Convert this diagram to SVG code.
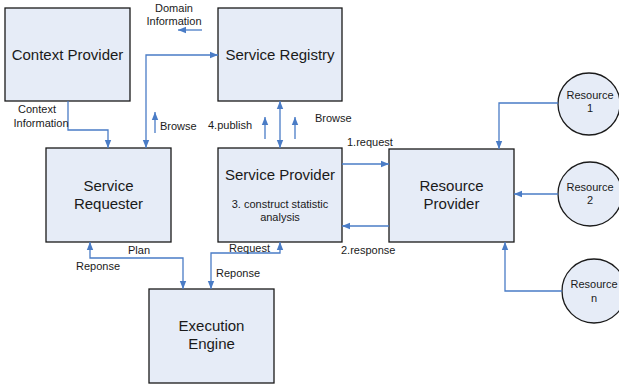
<svg xmlns="http://www.w3.org/2000/svg" width="619" height="384" viewBox="0 0 619 384">
  <defs>
    <marker id="arr" markerWidth="8" markerHeight="8" viewBox="0 0 8 8" refX="8" refY="4" orient="auto" markerUnits="userSpaceOnUse">
      <path d="M0,0.8 L8,4 L0,7.2 Z" fill="#4a7cc6"/>
    </marker>
    <marker id="arrS" markerWidth="8" markerHeight="8" viewBox="0 0 8 8" refX="0" refY="4" orient="auto" markerUnits="userSpaceOnUse">
      <path d="M8,0.8 L0,4 L8,7.2 Z" fill="#4a7cc6"/>
    </marker>
  </defs>
  <style>
    .box { fill: #e6ecf7; stroke: #1a1a1a; stroke-width: 1.3; }
    .title { font-family: "Liberation Sans", Arial, sans-serif; font-size: 15px; fill: #1a1a1a; text-anchor: middle; }
    .sub { font-family: "Liberation Sans", Arial, sans-serif; font-size: 11px; fill: #1a1a1a; text-anchor: middle; }
    .lbl { font-family: "Liberation Sans", Arial, sans-serif; font-size: 11px; fill: #1a1a1a; }
    .res { font-family: "Liberation Sans", Arial, sans-serif; font-size: 11px; fill: #1a1a1a; text-anchor: middle; }
    .ln { fill: none; stroke: #4a7cc6; stroke-width: 1.3; }
  </style>
  <rect width="619" height="384" fill="#ffffff"/>

  <g id="context-provider">
    <rect class="box" x="5" y="8" width="125" height="93"/>
    <text class="title" x="67.5" y="60">Context Provider</text>
  </g>
  <g id="service-registry">
    <rect class="box" x="218" y="8" width="124" height="93"/>
    <text class="title" x="280" y="60">Service Registry</text>
  </g>
  <g id="service-requester">
    <rect class="box" x="46" y="148" width="125" height="94"/>
    <text class="title" x="108.5" y="191">Service</text>
    <text class="title" x="108.5" y="209">Requester</text>
  </g>
  <g id="service-provider">
    <rect class="box" x="218" y="148" width="124" height="94"/>
    <text class="title" x="280" y="180">Service Provider</text>
    <text class="sub" x="280" y="208">3. construct statistic</text>
    <text class="sub" x="280" y="221">analysis</text>
  </g>
  <g id="resource-provider">
    <rect class="box" x="389" y="149" width="125" height="93"/>
    <text class="title" x="451.5" y="191">Resource</text>
    <text class="title" x="451.5" y="209">Provider</text>
  </g>
  <g id="execution-engine">
    <rect class="box" x="149" y="289" width="125" height="94"/>
    <text class="title" x="211.5" y="331">Execution</text>
    <text class="title" x="211.5" y="349">Engine</text>
  </g>
  <g id="resource-1">
    <circle class="box" cx="589" cy="104" r="31"/>
    <text class="res" x="590" y="99">Resource</text>
    <text class="res" x="590" y="112">1</text>
  </g>
  <g id="resource-2">
    <circle class="box" cx="590" cy="194" r="32"/>
    <text class="res" x="590" y="191">Resource</text>
    <text class="res" x="590" y="204">2</text>
  </g>
  <g id="resource-n">
    <circle class="box" cx="594" cy="291" r="32"/>
    <text class="res" x="594" y="288">Resource</text>
    <text class="res" x="594" y="302">n</text>
  </g>

  <g id="connectors">
    <!-- context information -->
    <path class="ln" d="M68,101 V130 H108 V148" marker-end="url(#arr)"/>
    <!-- requester <-> registry -->
    <path class="ln" d="M146,148 V55 H218" marker-start="url(#arrS)" marker-end="url(#arr)"/>
    <!-- browse (requester) -->
    <path class="ln" d="M155,133 V112" marker-end="url(#arr)"/>
    <!-- domain information -->
    <path class="ln" d="M202,30 H178" marker-end="url(#arr)"/>
    <!-- publish -->
    <path class="ln" d="M265,139 V117" marker-end="url(#arr)"/>
    <!-- registry <-> provider -->
    <path class="ln" d="M280,148 V101" marker-start="url(#arrS)" marker-end="url(#arr)"/>
    <!-- browse (provider) -->
    <path class="ln" d="M295,139 V117" marker-end="url(#arr)"/>
    <!-- 1.request / 2.response -->
    <path class="ln" d="M342,164 H389" marker-end="url(#arr)"/>
    <path class="ln" d="M389,226 H342" marker-end="url(#arr)"/>
    <!-- resources -->
    <path class="ln" d="M558,103 H499 V149" marker-end="url(#arr)"/>
    <path class="ln" d="M558,194 H514" marker-end="url(#arr)"/>
    <path class="ln" d="M562,291 H505 V242" marker-end="url(#arr)"/>
    <!-- plan / response -->
    <path class="ln" d="M90,242 V258 H183 V289" marker-start="url(#arrS)" marker-end="url(#arr)"/>
    <!-- request / response -->
    <path class="ln" d="M211,289 V253 H280 V242" marker-start="url(#arrS)" marker-end="url(#arr)"/>

    <text class="lbl" x="37" y="113" text-anchor="middle">Context</text>
    <text class="lbl" x="41" y="127" text-anchor="middle">Information</text>
    <text class="lbl" x="174" y="12" text-anchor="middle">Domain</text>
    <text class="lbl" x="174" y="25" text-anchor="middle">Information</text>
    <text class="lbl" x="160" y="130">Browse</text>
    <text class="lbl" x="208" y="129">4.publish</text>
    <text class="lbl" x="315" y="122">Browse</text>
    <text class="lbl" x="347" y="146">1.request</text>
    <text class="lbl" x="341" y="254">2.response</text>
    <text class="lbl" x="128" y="254">Plan</text>
    <text class="lbl" x="76" y="270">Reponse</text>
    <text class="lbl" x="229" y="252">Request</text>
    <text class="lbl" x="216" y="277">Reponse</text>
  </g>
</svg>
